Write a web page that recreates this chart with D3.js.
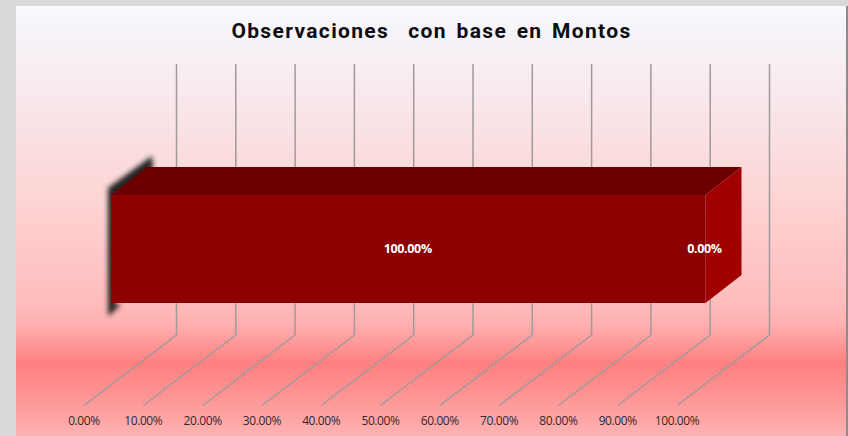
<!DOCTYPE html>
<html><head><meta charset="utf-8">
<script src="https://cdn.jsdelivr.net/npm/d3@7"></script>
<style>html,body{margin:0;padding:0;background:#d9d9d9;overflow:hidden}svg{display:block}</style>
</head><body><div id="c"></div>
<script>
const chartTitle = "Observaciones  con base en Montos";
const seriesValues = [100, 0];
const tickValues = [0,10,20,30,40,50,60,70,80,90,100];
const pct = v => v.toFixed(2) + "%";

const W = 848, H = 436;
const svg = d3.select("#c").append("svg").attr("width", W).attr("height", H);
const defs = svg.append("defs");
const grad = defs.append("linearGradient").attr("id","bg").attr("x1",0).attr("y1",0).attr("x2",0).attr("y2",1);
[[0,"#f8f9ff"],[0.045,"#f6f5fa"],[0.2,"#f8e9ed"],[0.45,"#fdd4d4"],[0.69,"#ffbcbc"],[0.74,"#ffb0b0"],[0.83,"#ff8080"],[0.9,"#ff9292"],[1,"#ffb2b2"]]
 .forEach(s => grad.append("stop").attr("offset",s[0]).attr("stop-color",s[1]));
const blur = defs.append("filter").attr("id","sh").attr("x","-50%").attr("y","-50%").attr("width","200%").attr("height","200%");
blur.append("feGaussianBlur").attr("stdDeviation",2.6);

svg.append("rect").attr("x",0).attr("y",0).attr("width",W).attr("height",H).attr("fill","#d9d9d9");
svg.append("rect").attr("x",846).attr("y",6).attr("width",2).attr("height",430).attr("fill","#8c8c8c");
svg.append("rect").attr("x",16).attr("y",6).attr("width",830).attr("height",430).attr("fill","url(#bg)");

// projected 3D axes
const xBack = d3.scaleLinear().domain([0,100]).range([176.5,769.5]);
const xFloor = d3.scaleLinear().domain([0,100]).range([84,677]);
const xFront = d3.scaleLinear().domain([0,100]).range([111,705.5]);
const gridTop = 64, gridBottom = 335, floorY = 405.5;
const depthX = 36, depthY = 28;
const barTop = 195, barBottom = 303;

const grid = svg.append("g");
grid.selectAll("path").data(tickValues).join("path")
  .attr("fill","none").attr("stroke","#a09a9a").attr("stroke-width",1.5)
  .attr("d", d => `M${xBack(d)},${gridTop}L${xBack(d)},${gridBottom}L${xFloor(d)},${floorY}`);

svg.append("g").selectAll("text").data(tickValues).join("text")
  .attr("x", d => xFloor(d)).attr("y", 425).attr("text-anchor","middle")
  .attr("font-family","'Open Sans'").attr("font-size",12).attr("letter-spacing",-0.4).attr("fill","#33292e")
  .text(pct);

// shadow on the left
const x0 = xFront(0);
svg.append("path").attr("filter","url(#sh)").attr("fill","#242020")
  .attr("d", `M${x0-3},${barTop-7}L${x0+depthX+5},${barTop-depthY-11}L${x0+depthX+6},${barTop-depthY+2}L${x0+4},${barTop+2}L${x0+4},${barBottom+1}L${x0+10},${barBottom+1}L${x0-1},${barBottom+12}L${x0-3},${barBottom+12}Z`);

// bar faces
const stacked = d3.cumsum(seriesValues);
const x1 = xFront(stacked[stacked.length-1]);
svg.append("path").attr("fill","#6c0000")
  .attr("d", `M${x0},${barTop}L${x0+depthX},${barTop-depthY}L${x1+depthX},${barTop-depthY}L${x1},${barTop}Z`);
svg.append("path").attr("fill","#a00000")
  .attr("d", `M${x1},${barTop}L${x1+depthX},${barTop-depthY}L${x1+depthX},${barBottom-depthY}L${x1},${barBottom}Z`);
svg.append("rect").attr("x",x0).attr("y",barTop).attr("width",x1-x0).attr("height",barBottom-barTop).attr("fill","#8c0000");

// data labels
svg.append("g").selectAll("text").data(seriesValues).join("text")
  .attr("x",(d,i)=> xFront(stacked[i]-d/2)-(i===0?0.5:1)).attr("y",253).attr("text-anchor","middle")
  .attr("font-family","'Open Sans'").attr("font-size",12.5).attr("font-weight",700).attr("letter-spacing",-0.35).attr("fill","#fff")
  .text(pct);

svg.append("text").attr("x",431.5).attr("y",37.5).attr("text-anchor","middle")
  .attr("font-family","Roboto").attr("font-weight",700).attr("font-size",21).attr("letter-spacing",1.35).attr("word-spacing",3)
  .style("white-space","pre").attr("fill","#0c0c12").text(chartTitle);
</script></body></html>
